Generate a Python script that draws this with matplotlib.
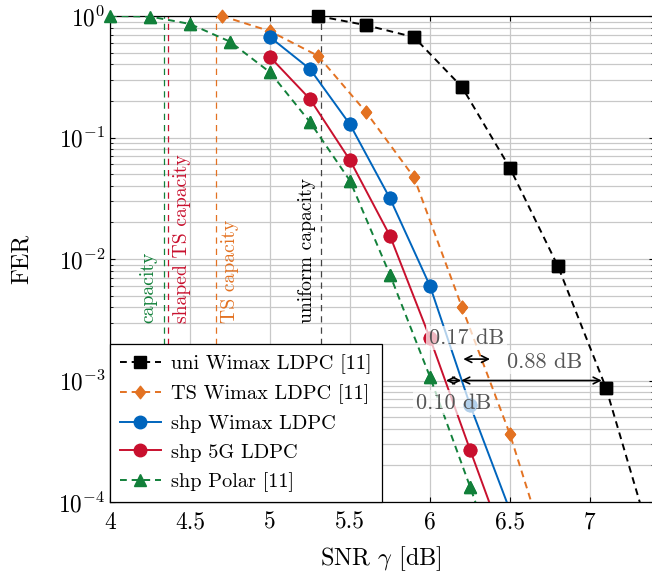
import numpy as np
import matplotlib.pyplot as plt
from matplotlib.path import Path

plt.rcParams['font.family'] = ['cmr10', 'DejaVu Serif']
plt.rcParams['mathtext.fontset'] = 'cm'
plt.rcParams['axes.formatter.use_mathtext'] = True

# FER curves
snr_uni = [5.3, 5.6, 5.9, 6.2, 6.5, 6.8, 7.1, 7.4]
fer_uni = [1.0, 0.84, 0.67, 0.26, 0.056, 0.0087, 8.7e-4, 4e-5]

snr_ts = [4.7, 5.0, 5.3, 5.6, 5.9, 6.2, 6.5, 6.8]
fer_ts = [1.0, 0.75, 0.47, 0.162, 0.047, 0.0040, 3.6e-4, 2e-5]

snr_shp_wimax = [5.0, 5.25, 5.5, 5.75, 6.0, 6.25, 6.5]
fer_shp_wimax = [0.67, 0.366, 0.128, 0.0315, 0.0060, 6.3e-4, 8.5e-5]

snr_shp_5g = [5.0, 5.25, 5.5, 5.75, 6.0, 6.25, 6.5]
fer_shp_5g = [0.46, 0.207, 0.065, 0.0155, 0.00223, 2.7e-4, 3.4e-5]

snr_polar = [4.0, 4.25, 4.5, 4.75, 5.0, 5.25, 5.5, 5.75, 6.0, 6.25, 6.5]
fer_polar = [1.0, 0.99, 0.86, 0.615, 0.344, 0.134, 0.044, 0.0074, 0.00107, 1.34e-4, 1.5e-5]

# capacity limits
cap_names = ['capacity', 'shaped TS capacity', 'TS capacity', 'uniform capacity']
cap_snr = [4.34, 4.36, 4.66, 5.32]

# gaps at the target FER
gap_labels = ['0.17 dB', '0.10 dB', '0.88 dB']
gap_from = [6.208, 6.10, 6.195]
gap_to = [6.375, 6.195, 7.073]
gap_fer = [1.5e-3, 1e-3, 1e-3]

orange = '#E37222'
blue = '#0065BD'
red = '#C8102E'
green = '#12803A'

# pgfplots style diamond (a bit wider than matplotlib's 'd')
diamond = Path([(0, 1), (0.8, 0), (0, -1), (-0.8, 0), (0, 1)],
               [Path.MOVETO, Path.LINETO, Path.LINETO, Path.LINETO, Path.CLOSEPOLY])

fig = plt.figure(figsize=(6.52, 5.72), dpi=100)
ax = fig.add_axes([110 / 652, 70 / 572, 544 / 652, 486 / 572])
ax.set_yscale('log')
ax.set_xlim(4, 7.4)
ax.set_ylim(1e-4, 1)

series = [
    (snr_uni, fer_uni, 'k', 's', (3.5, 2.5), 'uni Wimax LDPC [11]', 8.5),
    (snr_ts, fer_ts, orange, diamond, (3.5, 2.5), 'TS Wimax LDPC [11]', 9),
    (snr_shp_wimax, fer_shp_wimax, blue, 'o', None, 'shp Wimax LDPC', 9),
    (snr_shp_5g, fer_shp_5g, red, 'o', None, 'shp 5G LDPC', 9),
    (snr_polar, fer_polar, green, '^', (3.5, 2.5), 'shp Polar [11]', 8.5),
]

# capacity lines
cap_colors = [green, red, orange, '#444444']
for c, col in zip(cap_snr, cap_colors):
    ax.axvline(c, color=col, lw=0.9, dashes=(5, 4), zorder=2)

for x, y, col, m, ds, lab, ms in series:
    kw = dict(color=col, lw=1.4, marker=m, ms=ms, label=lab, zorder=3)
    if ds is not None:
        kw['dashes'] = ds
    ax.plot(x, y, **kw)
    x = np.array(x)
    y = np.array(y)
    inside = (y >= 1e-4) & (x <= 7.4)
    ax.plot(x[inside], y[inside], ls='none', marker=m, ms=ms, color=col,
            clip_on=False, zorder=3)

# capacity labels
lab_x = [4.2375, 4.447, 4.75, 5.234]
for name, lx, col in zip(cap_names, lab_x, [green, red, orange, 'k']):
    ax.text(lx, 3.0e-3, name, rotation=90, ha='center', va='bottom',
            color=col, fontsize=14.2, zorder=4)

# gap arrows and labels
for a, b, f in zip(gap_from, gap_to, gap_fer):
    ax.annotate('', xy=(a, f), xytext=(b, f),
                arrowprops=dict(arrowstyle='<->', color='k', lw=1.2,
                                shrinkA=0, shrinkB=0, mutation_scale=12), zorder=7)
gap_text_pos = [(6.229, 2.24e-3), (6.146, 6.56e-4), (6.719, 1.42e-3)]
for t, (tx, ty) in zip(gap_labels, gap_text_pos):
    ax.text(tx, ty, t, ha='center', va='center', color='#555555', fontsize=16,
            zorder=6, bbox=dict(facecolor='white', edgecolor='none', alpha=0.7, pad=2))

ax.grid(True, which='major', color='#c8c8c8', lw=0.9)
ax.grid(True, which='minor', axis='y', color='#c8c8c8', lw=0.9)
ax.set_xticks([4, 4.5, 5, 5.5, 6, 6.5, 7])
ax.set_xticklabels(['4', '4.5', '5', '5.5', '6', '6.5', '7'])
ax.tick_params(which='both', direction='in', top=True, right=True, labelsize=16.8)
ax.tick_params(axis='x', pad=7)
for s in ax.spines.values():
    s.set_linewidth(0.9)

ax.set_xlabel(r'SNR $\gamma$ [dB]', fontsize=17.5)
ax.set_ylabel('FER', fontsize=17.5)
ax.xaxis.set_label_coords(0.498, -0.086)
ax.yaxis.set_label_coords(-0.1415, 0.5)

leg = ax.legend(loc='lower left', borderaxespad=0, fancybox=False, edgecolor='k',
                framealpha=1, fontsize=14.6, labelspacing=0.52, handlelength=2.0,
                handletextpad=0.5, borderpad=0.5)
leg.get_frame().set_linewidth(0.9)
leg.set_zorder(10)

fig.savefig('out.png', dpi=100)
